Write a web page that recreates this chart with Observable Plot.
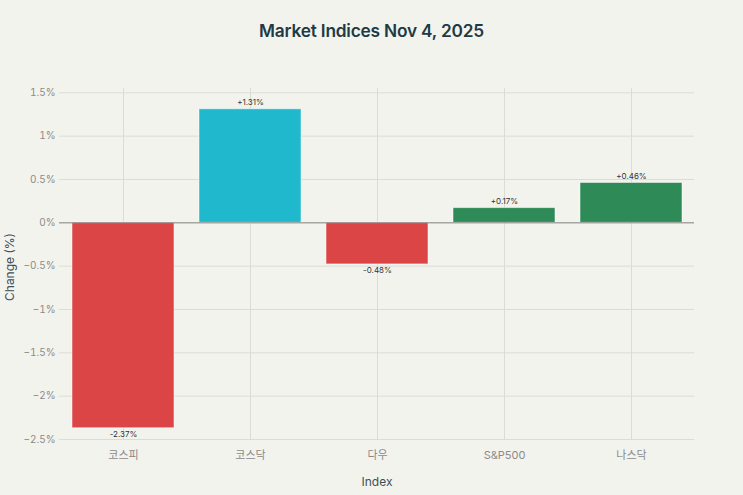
<!DOCTYPE html>
<html>
<head>
<meta charset="utf-8">
<script src="https://cdn.jsdelivr.net/npm/d3@7"></script>
<script src="https://cdn.jsdelivr.net/npm/@observablehq/plot@0.6"></script>
<style>
  html, body { margin: 0; padding: 0; background: #F3F3EE; }
  body { width: 743px; height: 495px; overflow: hidden; font-family: Inter, "Noto Sans CJK KR", sans-serif; }
  #title { height: 60px; line-height: 62px; text-align: center; font-size: 17.3px; font-weight: 600; color: #1E3A44; letter-spacing: -0.2px; }
  #chart svg { display: block; }
</style>
</head>
<body>
<div id="title">Market Indices Nov 4, 2025</div>
<div id="chart"></div>
<script>
const indices = ["코스피", "코스닥", "다우", "S&P500", "나스닥"];
const changes = [-2.37, 1.31, -0.48, 0.17, 0.46];
const barColors = ["#DB4545", "#1FB8CD", "#DB4545", "#2E8B57", "#2E8B57"];
const yTicks = [-2.5, -2, -1.5, -1, -0.5, 0, 0.5, 1, 1.5];

const data = indices.map((name, i) => ({name, value: changes[i], color: barColors[i],
  label: (changes[i] >= 0 ? "+" : "-") + Math.abs(changes[i]).toFixed(2) + "%"}));

const fontFam = 'Inter, "Noto Sans CJK KR", sans-serif';
const yFmt = d => (d < 0 ? "\u2212" : "") + Math.abs(d) + "%";

const chart = Plot.plot({
  width: 743,
  height: 435,
  marginTop: 28,
  marginBottom: 56,
  marginLeft: 59,
  marginRight: 49,
  style: {background: "transparent", fontFamily: fontFam, fontSize: "10px", color: "#8a8a8a"},
  x: {domain: indices, paddingInner: 0.2, paddingOuter: 0.1, label: null, tickSize: 0, tickPadding: 12},
  y: {domain: [-2.5, 1.55], ticks: yTicks, tickSize: 0, tickPadding: 4, label: null, tickFormat: yFmt},
  marks: [
    Plot.gridY(yTicks, {stroke: "#dcdcd6", strokeOpacity: 1, strokeWidth: 1}),
    Plot.gridX(indices, {stroke: "#dcdcd6", strokeOpacity: 1, strokeWidth: 1}),
    Plot.barY(data, {x: "name", y: "value", fill: "color", stroke: "#ffffff", strokeOpacity: 0.5, strokeWidth: 1}),
    Plot.ruleY([0], {stroke: "#888888", strokeWidth: 1}),
    Plot.text(data.filter(d => d.value >= 0), {x: "name", y: "value", text: "label", dy: -4, lineAnchor: "bottom", fill: "#333", fontSize: 8}),
    Plot.text(data.filter(d => d.value < 0), {x: "name", y: "value", text: "label", dy: 3, lineAnchor: "top", fill: "#333", fontSize: 8}),
    Plot.axisX({tickSize: 0, tickPadding: 12, fontSize: 11, fill: "#8a8a8a"}),
    Plot.axisY({ticks: yTicks, tickSize: 0, tickPadding: 4, fontSize: 10, fill: "#8a8a8a", tickFormat: yFmt}),
    Plot.text(["Index"], {frameAnchor: "bottom", dy: 46, fontSize: 12, fill: "#3d4f56"}),
    Plot.text(["Change (%)"], {frameAnchor: "left", textAnchor: "middle", dx: -49, dy: 3, rotate: -90, fontSize: 12, fill: "#3d4f56"})
  ]
});
document.getElementById("chart").appendChild(chart);
</script>
</body>
</html>
